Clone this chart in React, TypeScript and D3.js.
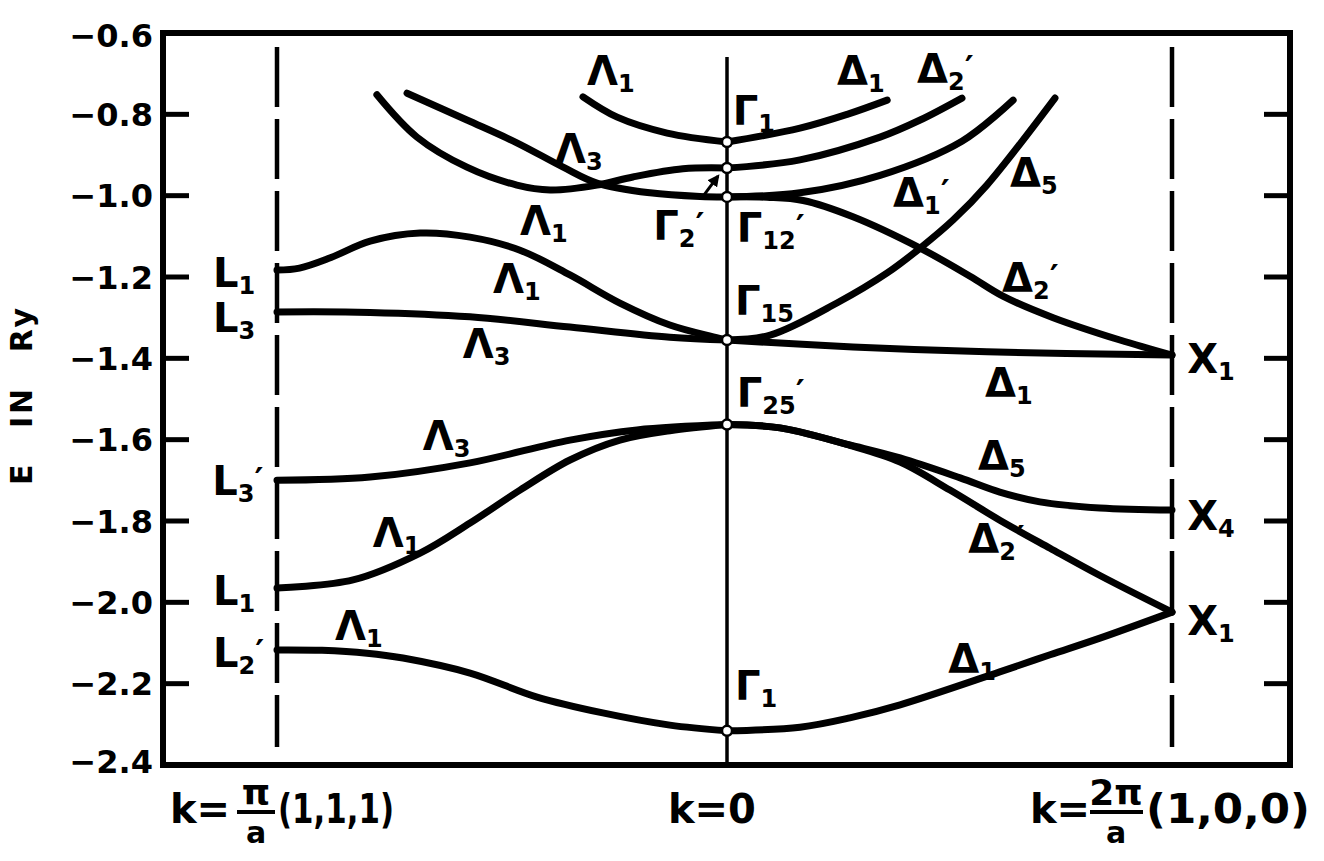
import * as d3 from "d3";

type Pt = [number, number];

// k: -1 = L (pi/a(1,1,1)), 0 = Gamma, 1 = X (2pi/a(1,0,0)); E in Ry
const yTicks = [-0.6, -0.8, -1.0, -1.2, -1.4, -1.6, -1.8, -2.0, -2.2, -2.4];
const gammaLevels = [-0.868, -0.932, -1.003, -1.355, -1.563, -2.316];

// Lambda branches (L -> Gamma)
const lamL2p: Pt[] = [[-1, -2.117], [-0.9, -2.118], [-0.8, -2.125], [-0.72, -2.137], [-0.571, -2.174], [-0.422, -2.233], [-0.276, -2.272], [-0.127, -2.302], [0, -2.316]];
const lamL1low: Pt[] = [[-1, -1.965], [-0.831, -1.945], [-0.682, -1.879], [-0.571, -1.805], [-0.46, -1.724], [-0.349, -1.65], [-0.238, -1.601], [-0.127, -1.578], [0, -1.563]];
const lamL3p: Pt[] = [[-1, -1.70], [-0.793, -1.692], [-0.571, -1.657], [-0.349, -1.601], [-0.2, -1.576], [0, -1.563]];
const lamL3: Pt[] = [[-1, -1.286], [-0.793, -1.287], [-0.571, -1.298], [-0.349, -1.323], [-0.127, -1.348], [0, -1.355]];
const lamL1up: Pt[] = [[-1, -1.183], [-0.95, -1.178], [-0.88, -1.152], [-0.793, -1.112], [-0.682, -1.092], [-0.571, -1.102], [-0.46, -1.134], [-0.349, -1.195], [-0.238, -1.264], [-0.127, -1.318], [0, -1.355]];
const lamUpA: Pt[] = [[-0.778, -0.752], [-0.689, -0.856], [-0.578, -0.93], [-0.467, -0.974], [-0.393, -0.986], [-0.289, -0.974], [-0.209, -0.954], [-0.098, -0.934], [0, -0.932]];
const lamUpB: Pt[] = [[-0.711, -0.748], [-0.578, -0.814], [-0.467, -0.87], [-0.364, -0.93], [-0.289, -0.969], [-0.171, -0.993], [-0.06, -1.002], [0, -1.003]];
const lamTop: Pt[] = [[-0.32, -0.757], [-0.244, -0.807], [-0.133, -0.846], [0, -0.868]];

// Delta branches (Gamma -> X)
const delTop: Pt[] = [[0, -0.868], [0.164, -0.834], [0.27, -0.80], [0.36, -0.765]];
const del2pUp: Pt[] = [[0, -0.932], [0.164, -0.912], [0.344, -0.856], [0.434, -0.814], [0.528, -0.76]];
const del1p: Pt[] = [[0, -1.003], [0.164, -0.993], [0.344, -0.95], [0.528, -0.866], [0.643, -0.765]];
const del5Up: Pt[] = [[0, -1.355], [0.097, -1.343], [0.247, -1.264], [0.36, -1.19], [0.434, -1.129], [0.508, -1.06], [0.584, -0.974], [0.737, -0.76]];
const del2pMid: Pt[] = [[0, -1.003], [0.09, -1.004], [0.171, -1.012], [0.283, -1.052], [0.434, -1.129], [0.546, -1.198], [0.62, -1.247], [0.733, -1.300], [0.883, -1.355], [1, -1.392]];
const del1Mid: Pt[] = [[0, -1.355], [0.283, -1.372], [0.584, -1.384], [1, -1.392]];
const del5Low: Pt[] = [[0, -1.563], [0.119, -1.571], [0.276, -1.613], [0.389, -1.645], [0.524, -1.694], [0.613, -1.729], [0.703, -1.753], [0.838, -1.768], [1, -1.773]];
const del2pLow: Pt[] = [[0, -1.563], [0.119, -1.571], [0.276, -1.614], [0.389, -1.655], [0.501, -1.724], [0.613, -1.798], [0.726, -1.867], [0.838, -1.934], [1, -2.024]];
const del1Low: Pt[] = [[0, -2.316], [0.164, -2.307], [0.276, -2.284], [0.389, -2.252], [0.613, -2.171], [0.726, -2.129], [0.838, -2.088], [1, -2.024]];

const bands = [lamL2p, lamL1low, lamL3p, lamL3, lamL1up, lamUpA, lamUpB, lamTop,
  delTop, del2pUp, del1p, del5Up, del2pMid, del1Mid, del5Low, del2pLow, del1Low];

type Lab = { base: string; sub: string; prime?: boolean; k: number; e: number };
const labels: Lab[] = [
  { base: "Λ", sub: "1", k: -0.311, e: -0.728 },
  { base: "Δ", sub: "1", k: 0.247, e: -0.728 },
  { base: "Δ", sub: "2", prime: true, k: 0.427, e: -0.723 },
  { base: "Γ", sub: "1", k: 0.013, e: -0.826 },
  { base: "Λ", sub: "3", k: -0.382, e: -0.92 },
  { base: "Λ", sub: "1", k: -0.46, e: -1.097 },
  { base: "Γ", sub: "2", prime: true, k: -0.164, e: -1.109 },
  { base: "Γ", sub: "12", prime: true, k: 0.022, e: -1.114 },
  { base: "Δ", sub: "1", prime: true, k: 0.373, e: -1.028 },
  { base: "Δ", sub: "5", k: 0.636, e: -0.979 },
  { base: "Λ", sub: "1", k: -0.52, e: -1.239 },
  { base: "Γ", sub: "15", k: 0.018, e: -1.293 },
  { base: "Δ", sub: "2", prime: true, k: 0.618, e: -1.237 },
  { base: "Λ", sub: "3", k: -0.587, e: -1.399 },
  { base: "X", sub: "1", k: 1.034, e: -1.436 },
  { base: "Δ", sub: "1", k: 0.58, e: -1.495 },
  { base: "Γ", sub: "25", prime: true, k: 0.022, e: -1.52 },
  { base: "Λ", sub: "3", k: -0.676, e: -1.625 },
  { base: "Δ", sub: "5", k: 0.564, e: -1.675 },
  { base: "X", sub: "4", k: 1.034, e: -1.822 },
  { base: "Λ", sub: "1", k: -0.787, e: -1.864 },
  { base: "Δ", sub: "2", prime: true, k: 0.542, e: -1.879 },
  { base: "X", sub: "1", k: 1.034, e: -2.08 },
  { base: "Λ", sub: "1", k: -0.871, e: -2.093 },
  { base: "Δ", sub: "1", k: 0.497, e: -2.174 },
  { base: "Γ", sub: "1", k: 0.018, e: -2.24 },
  { base: "L", sub: "1", k: -1.142, e: -1.225 },
  { base: "L", sub: "3", k: -1.142, e: -1.335 },
  { base: "L", sub: "3", prime: true, k: -1.144, e: -1.736 },
  { base: "L", sub: "1", k: -1.142, e: -2.007 },
  { base: "L", sub: "2", prime: true, k: -1.142, e: -2.159 },
];

const FONT = "DejaVu Sans";

export default function App() {
  const W = 1324, H = 861;
  const x = d3.scaleLinear().domain([-1, 0, 1]).range([277, 727, 1172]);
  const y = d3.scaleLinear().domain([-0.6, -2.4]).range([33, 765]);
  const left = 163, right = 1290;
  const line = d3.line<Pt>().x(d => x(d[0])).y(d => y(d[1])).curve(d3.curveCatmullRom.alpha(0.5));
  const kBase = 823;

  return (
    <svg width={W} height={H} style={{ position: "absolute", left: 0, top: 0, background: "#fff" }}
      fontFamily={FONT} fontWeight="bold">
      <defs>
        <marker id="ah" viewBox="0 0 10 10" refX="8" refY="5" markerWidth="4" markerHeight="4" orient="auto">
          <path d="M0,0 L10,5 L0,10 z" fill="#000" />
        </marker>
      </defs>
      {/* frame */}
      <rect x={left} y={y(-0.6)} width={right - left} height={y(-2.4) - y(-0.6)} fill="none" stroke="#000" strokeWidth={6} />
      {yTicks.slice(1, -1).map(t => (
        <g key={t}>
          <line x1={left} x2={left + 26} y1={y(t)} y2={y(t)} stroke="#000" strokeWidth={5} />
          <line x1={right - 26} x2={right} y1={y(t)} y2={y(t)} stroke="#000" strokeWidth={5} />
        </g>
      ))}
      {yTicks.map((t, i) => (
        <text key={t} x={153} y={y(t) + (i === 0 ? 2 : i === yTicks.length - 1 ? -4 : 0)} dy="0.36em"
          textAnchor="end" fontSize={32}>{"−" + Math.abs(t).toFixed(1)}</text>
      ))}
      <text transform={`translate(32,${(y(-1.2) + y(-1.8)) / 2 - 4}) rotate(-90)`} textAnchor="middle"
        fontSize={30} letterSpacing={3} wordSpacing={20}>E IN Ry</text>

      {/* symmetry lines */}
      <line x1={x(-1)} x2={x(-1)} y1={47} y2={747} stroke="#000" strokeWidth={4.5} strokeDasharray="60 12" />
      <line x1={x(1)} x2={x(1)} y1={47} y2={747} stroke="#000" strokeWidth={4.5} strokeDasharray="60 12" />
      <line x1={x(0)} x2={x(0)} y1={57} y2={y(-2.4)} stroke="#000" strokeWidth={3.5} />

      {bands.map((b, i) => (
        <path key={i} d={line(b) ?? ""} fill="none" stroke="#000" strokeWidth={7} strokeLinecap="round" />
      ))}

      {gammaLevels.map(e => (
        <circle key={e} cx={x(0)} cy={y(e)} r={5} fill="#fff" stroke="#000" strokeWidth={2.5} />
      ))}

      {/* arrow for Gamma2' */}
      <line x1={x(-0.053)} y1={y(-1.001)} x2={x(-0.02)} y2={y(-0.952)} stroke="#000" strokeWidth={3} markerEnd="url(#ah)" />

      {labels.map((l, i) => (
        <text key={i} x={x(l.k)} y={y(l.e)} fontSize={40}>
          {l.base}
          <tspan fontSize={24} dy={7}>{l.sub}</tspan>
          {l.prime ? <tspan fontSize={34} dy={-10}>′</tspan> : null}
        </text>
      ))}

      {/* k labels */}
      <g fontSize={40}>
        <text x={x(-1) - 107} y={kBase}>k=</text>
        <text x={x(-1) - 21} y={kBase - 18} textAnchor="middle" fontSize={36}>π</text>
        <line x1={x(-1) - 40} x2={x(-1) - 2} y1={kBase - 11} y2={kBase - 11} stroke="#000" strokeWidth={4} />
        <text x={x(-1) - 21} y={kBase + 20} textAnchor="middle" fontSize={30}>a</text>
        <text x={x(-1) + 1} y={kBase} textLength={116} lengthAdjust="spacingAndGlyphs">(1,1,1)</text>

        <text x={x(0) - 59} y={kBase}>k=0</text>

        <text x={x(1) - 142} y={kBase}>k=</text>
        <text x={x(1) - 56} y={kBase - 18} textAnchor="middle" fontSize={36}>2π</text>
        <line x1={x(1) - 82} x2={x(1) - 29} y1={kBase - 11} y2={kBase - 11} stroke="#000" strokeWidth={4} />
        <text x={x(1) - 56} y={kBase + 20} textAnchor="middle" fontSize={30}>a</text>
        <text x={x(1) - 26} y={kBase} textLength={164} lengthAdjust="spacingAndGlyphs">(1,0,0)</text>
      </g>
    </svg>
  );
}
